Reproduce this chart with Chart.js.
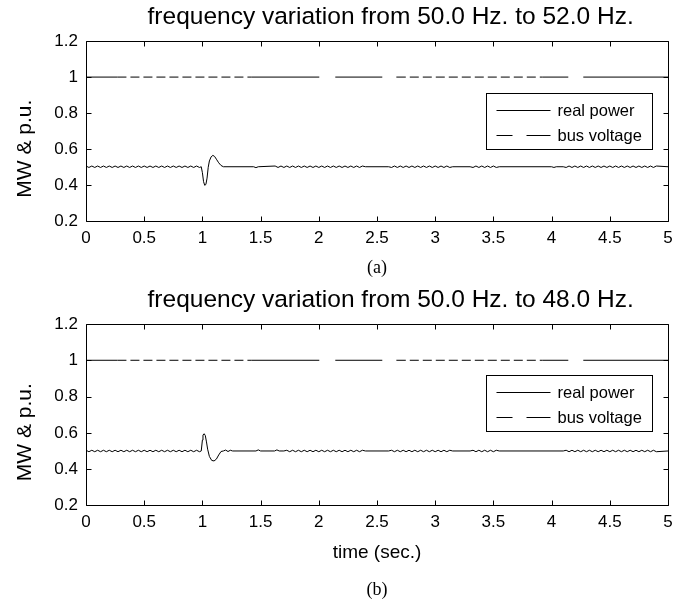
<!DOCTYPE html>
<html>
<head>
<meta charset="utf-8">
<script src="https://cdn.jsdelivr.net/npm/chart.js@4.4.1/dist/chart.umd.min.js"></script>
<style>
    html, body { margin: 0; padding: 0; background: #fff; }
    #wrap { position: relative; width: 691px; height: 601px; overflow: hidden; }
    #wrap canvas { position: absolute; left: 0; }
    #chart-a { top: 0; }
    #chart-b { top: 283px; }
</style>
</head>
<body>
<div id="wrap">
    <canvas id="chart-a" width="691" height="283"></canvas>
    <canvas id="chart-b" width="691" height="318"></canvas>
</div>
<script>
// ---- data ----
const xTicks = [0, 0.5, 1, 1.5, 2, 2.5, 3, 3.5, 4, 4.5, 5];
const xTickLabels = ['0', '0.5', '1', '1.5', '2', '2.5', '3', '3.5', '4', '4.5', '5'];
const yTicks = [0.2, 0.4, 0.6, 0.8, 1, 1.2];
const yTickLabels = ['0.2', '0.4', '0.6', '0.8', '1', '1.2'];

const seriesNames = ['real power', 'bus voltage'];
const titleA = 'frequency variation from 50.0 Hz. to 52.0 Hz.';
const titleB = 'frequency variation from 50.0 Hz. to 48.0 Hz.';
const yTitle = 'MW & p.u.';
const xTitle = 'time (sec.)';
const captionA = '(a)';
const captionB = '(b)';

// (a) real power, time in sec.
const timeA = [
    0, 0.025, 0.05, 0.075, 0.1, 0.125, 0.15, 0.175, 0.2, 0.225,
    0.25, 0.275, 0.3, 0.325, 0.35, 0.375, 0.4, 0.425, 0.45, 0.475,
    0.5, 0.525, 0.55, 0.575, 0.6, 0.625, 0.65, 0.675, 0.7, 0.725,
    0.75, 0.775, 0.8, 0.825, 0.85, 0.875, 0.9, 0.925, 0.95, 0.975,
    0.99, 1.0, 1.01, 1.02, 1.03, 1.04, 1.05, 1.06, 1.075, 1.09,
    1.105, 1.12, 1.14, 1.16, 1.18, 1.44, 1.46, 1.48, 1.625, 1.65,
    1.675, 1.7, 1.725, 1.75, 1.775, 1.8, 1.825, 1.85, 1.875, 1.9,
    1.925, 1.95, 1.975, 2.0, 2.025, 2.05, 2.075, 2.1, 2.125, 2.15,
    2.175, 2.2, 2.225, 2.25, 2.275, 2.3, 2.325, 2.35, 2.375, 2.4,
    2.6, 2.625, 2.65, 2.675, 2.7, 2.725, 2.75, 2.775, 2.8, 2.825,
    2.85, 2.875, 2.9, 2.925, 2.95, 2.975, 3.0, 3.025, 3.05, 3.075,
    3.1, 3.125, 3.15, 3.3, 3.325, 3.35, 3.375, 3.4, 3.425, 3.45,
    3.475, 3.5, 3.525, 3.55, 4.0, 4.02, 4.04, 4.1, 4.125, 4.15,
    4.175, 4.2, 4.225, 4.25, 4.275, 4.3, 4.325, 4.35, 4.375, 4.4,
    4.425, 4.45, 4.475, 4.5, 4.525, 4.55, 4.575, 4.6, 4.625, 4.65,
    4.675, 4.7, 4.725, 4.75, 4.775, 4.8, 4.825, 4.85, 4.875, 4.9,
    5.0
];
const powerA = [
    0.507, 0.499, 0.507, 0.499, 0.507, 0.499, 0.507, 0.499, 0.507, 0.499,
    0.507, 0.499, 0.507, 0.499, 0.507, 0.499, 0.507, 0.499, 0.507, 0.499,
    0.507, 0.499, 0.507, 0.499, 0.507, 0.499, 0.507, 0.499, 0.507, 0.499,
    0.507, 0.499, 0.507, 0.499, 0.507, 0.499, 0.507, 0.499, 0.507, 0.499,
    0.503, 0.47, 0.42, 0.40, 0.405, 0.44, 0.50, 0.535, 0.558, 0.566,
    0.56, 0.545, 0.525, 0.51, 0.503, 0.503, 0.498, 0.503, 0.507, 0.499,
    0.507, 0.499, 0.507, 0.499, 0.507, 0.499, 0.507, 0.499, 0.507, 0.499,
    0.507, 0.499, 0.507, 0.499, 0.507, 0.499, 0.507, 0.499, 0.507, 0.499,
    0.507, 0.499, 0.507, 0.499, 0.507, 0.499, 0.507, 0.499, 0.507, 0.503,
    0.503, 0.499, 0.507, 0.499, 0.507, 0.499, 0.507, 0.499, 0.507, 0.499,
    0.507, 0.499, 0.507, 0.499, 0.507, 0.499, 0.507, 0.499, 0.507, 0.499,
    0.507, 0.499, 0.503, 0.503, 0.499, 0.507, 0.499, 0.507, 0.499, 0.507,
    0.499, 0.507, 0.499, 0.503, 0.503, 0.499, 0.503, 0.503, 0.499, 0.507,
    0.499, 0.507, 0.499, 0.507, 0.499, 0.507, 0.499, 0.507, 0.499, 0.507,
    0.499, 0.507, 0.499, 0.507, 0.499, 0.507, 0.499, 0.507, 0.499, 0.507,
    0.499, 0.507, 0.499, 0.507, 0.499, 0.507, 0.499, 0.507, 0.499, 0.507,
    0.503
];

// (b) real power
const timeB = [
    0, 0.025, 0.05, 0.075, 0.1, 0.125, 0.15, 0.175, 0.2, 0.225,
    0.25, 0.275, 0.3, 0.325, 0.35, 0.375, 0.4, 0.425, 0.45, 0.475,
    0.5, 0.525, 0.55, 0.575, 0.6, 0.625, 0.65, 0.675, 0.7, 0.725,
    0.75, 0.775, 0.8, 0.825, 0.85, 0.875, 0.9, 0.925, 0.95, 0.975,
    0.99, 1.0, 1.005, 1.015, 1.025, 1.035, 1.045, 1.06, 1.08, 1.1,
    1.12, 1.14, 1.16, 1.18, 1.2, 1.22, 1.24, 1.26, 1.46, 1.48,
    1.5, 1.62, 1.64, 1.66, 1.7, 1.725, 1.75, 1.775, 1.8, 1.825,
    1.85, 1.875, 1.9, 1.925, 1.95, 1.975, 2.0, 2.025, 2.05, 2.075,
    2.1, 2.125, 2.15, 2.175, 2.2, 2.225, 2.25, 2.275, 2.3, 2.325,
    2.35, 2.375, 2.4, 2.6, 2.625, 2.65, 2.675, 2.7, 2.725, 2.75,
    2.775, 2.8, 2.825, 2.85, 2.875, 2.9, 2.925, 2.95, 2.975, 3.0,
    3.025, 3.05, 3.075, 3.1, 3.125, 3.15, 3.3, 3.325, 3.35, 3.375,
    3.4, 3.425, 3.45, 3.475, 3.5, 3.525, 3.55, 4.1, 4.125, 4.15,
    4.175, 4.2, 4.225, 4.25, 4.275, 4.3, 4.325, 4.35, 4.375, 4.4,
    4.425, 4.45, 4.475, 4.5, 4.525, 4.55, 4.575, 4.6, 4.625, 4.65,
    4.675, 4.7, 4.725, 4.75, 4.775, 4.8, 4.825, 4.85, 4.875, 4.9,
    5.0
];
const powerB = [
    0.504, 0.496, 0.504, 0.496, 0.504, 0.496, 0.504, 0.496, 0.504, 0.496,
    0.504, 0.496, 0.504, 0.496, 0.504, 0.496, 0.504, 0.496, 0.504, 0.496,
    0.504, 0.496, 0.504, 0.496, 0.504, 0.496, 0.504, 0.496, 0.504, 0.496,
    0.504, 0.496, 0.504, 0.496, 0.504, 0.496, 0.504, 0.496, 0.504, 0.496,
    0.50, 0.56, 0.588, 0.595, 0.585, 0.55, 0.51, 0.47, 0.448, 0.445,
    0.455, 0.478, 0.497, 0.50, 0.505, 0.497, 0.504, 0.50, 0.50, 0.506,
    0.50, 0.50, 0.506, 0.50, 0.50, 0.504, 0.496, 0.504, 0.496, 0.504,
    0.496, 0.504, 0.496, 0.504, 0.496, 0.504, 0.496, 0.504, 0.496, 0.504,
    0.496, 0.504, 0.496, 0.504, 0.496, 0.504, 0.496, 0.504, 0.496, 0.504,
    0.496, 0.504, 0.50, 0.50, 0.504, 0.496, 0.504, 0.496, 0.504, 0.496,
    0.504, 0.496, 0.504, 0.496, 0.504, 0.496, 0.504, 0.496, 0.504, 0.496,
    0.504, 0.496, 0.504, 0.496, 0.504, 0.50, 0.50, 0.504, 0.496, 0.504,
    0.496, 0.504, 0.496, 0.504, 0.496, 0.504, 0.50, 0.50, 0.504, 0.496,
    0.504, 0.496, 0.504, 0.496, 0.504, 0.496, 0.504, 0.496, 0.504, 0.496,
    0.504, 0.496, 0.504, 0.496, 0.504, 0.496, 0.504, 0.496, 0.504, 0.496,
    0.504, 0.496, 0.504, 0.496, 0.504, 0.496, 0.504, 0.496, 0.504, 0.496,
    0.50
];

// bus voltage: flat at 1 p.u., broken where the dash pattern changes
const voltageTime = [0, 0.27, 1.42, 2.67, 3.92, 5];
const voltageA = [1, 1, 1, 1, 1, 1];
const voltageB = [1, 1, 1, 1, 1, 1];

// ---- drawing ----
const SANS = '"Liberation Sans", Arial, Helvetica, sans-serif';
const SERIF = '"Liberation Serif", "Times New Roman", Times, serif';
const NB = '\u00a0';

Chart.defaults.color = '#000';
Chart.defaults.font.family = SANS;

// dash runs of the voltage trace, one per segment
const voltageDash = [[], [9, 4], [68, 16, 47, 14], [9, 4], [26, 15, 200, 0]];

const toPoints = (xs, ys) => {
    if (xs.length !== ys.length) console.warn('length mismatch', xs.length, ys.length);
    return xs.map((x, i) => ({ x: x, y: ys[i] }));
};

// matlab style box with inward ticks on all four sides
const frameTicks = {
    id: 'frameTicks',
    afterDatasetsDraw(chart) {
        const { ctx, chartArea: a, scales: { x, y } } = chart;
        const L = Math.round(a.left) + 0.5, R = Math.round(a.right) + 0.5;
        const T = Math.round(a.top) + 0.5, B = Math.round(a.bottom) + 0.5;
        const len = 5;
        ctx.save();
        ctx.strokeStyle = '#000';
        ctx.lineWidth = 1;
        ctx.setLineDash([]);
        ctx.beginPath();
        ctx.rect(L, T, R - L, B - T);
        x.ticks.forEach(t => {
            const px = Math.round(x.getPixelForValue(t.value)) + 0.5;
            ctx.moveTo(px, B); ctx.lineTo(px, B - len);
            ctx.moveTo(px, T); ctx.lineTo(px, T + len);
        });
        y.ticks.forEach(t => {
            const py = Math.round(y.getPixelForValue(t.value)) + 0.5;
            ctx.moveTo(L, py); ctx.lineTo(L + len, py);
            ctx.moveTo(R, py); ctx.lineTo(R - len, py);
        });
        ctx.stroke();
        ctx.restore();
    }
};

// boxed legend inside the plot, upper right
const boxLegend = {
    id: 'boxLegend',
    afterDraw(chart, args, opts) {
        const { ctx, chartArea: a } = chart;
        const w = 166, h = 56;
        const left = Math.round(a.right - opts.right - w) + 0.5;
        const top = Math.round(a.top + opts.top) + 0.5;
        ctx.save();
        ctx.fillStyle = '#fff';
        ctx.fillRect(left, top, w, h);
        ctx.strokeStyle = '#000';
        ctx.lineWidth = 1;
        ctx.setLineDash([]);
        ctx.strokeRect(left, top, w, h);
        ctx.font = '16.5px ' + SANS;
        ctx.fillStyle = '#000';
        ctx.textBaseline = 'middle';
        chart.data.datasets.forEach((ds, i) => {
            const cy = Math.round(top + 16 + i * 25) + 0.5;
            ctx.setLineDash(ds.legendDash || []);
            ctx.beginPath();
            ctx.moveTo(left + 10, cy);
            ctx.lineTo(left + 64, cy);
            ctx.stroke();
            ctx.fillText(ds.label, left + 71, cy + 1);
        });
        ctx.restore();
    }
};

function makeChart(canvasId, cfg) {
    return new Chart(document.getElementById(canvasId), {
        type: 'line',
        data: {
            datasets: [
                {
                    label: seriesNames[0],
                    data: toPoints(cfg.time, cfg.power),
                    borderColor: '#000',
                    borderWidth: 1,
                    pointRadius: 0,
                    tension: 0,
                    legendDash: []
                },
                {
                    label: seriesNames[1],
                    data: toPoints(voltageTime, cfg.voltage),
                    borderColor: '#000',
                    borderWidth: 1,
                    pointRadius: 0,
                    tension: 0,
                    segment: { borderDash: c => voltageDash[c.p0DataIndex] },
                    legendDash: [16, 14, 24, 0]
                }
            ]
        },
        options: {
            responsive: false,
            animation: false,
            events: [],
            layout: { padding: { left: 0, right: 23, top: 0, bottom: 0 } },
            plugins: {
                legend: { display: false },
                tooltip: { enabled: false },
                title: {
                    display: true,
                    fullSize: false,
                    text: NB.repeat(4) + cfg.title,
                    color: '#000',
                    font: { family: SANS, size: 24.5, weight: 'normal' },
                    padding: { top: 3, bottom: 8.6 }
                },
                subtitle: {
                    display: true,
                    fullSize: false,
                    position: 'bottom',
                    text: cfg.caption,
                    color: '#000',
                    font: { family: SERIF, size: 18, weight: 'normal' },
                    padding: cfg.captionPadding
                },
                boxLegend: { top: cfg.legendTop, right: 16 }
            },
            scales: {
                x: {
                    type: 'linear',
                    min: 0,
                    max: 5,
                    afterBuildTicks: s => { s.ticks = xTicks.map(v => ({ value: v })); },
                    afterFit: s => { s.height = cfg.xAxisHeight; },
                    grid: { display: false, drawTicks: false },
                    border: { display: false },
                    ticks: {
                        padding: 7,
                        autoSkip: false,
                        maxRotation: 0,
                        color: '#000',
                        font: { family: SANS, size: 17 },
                        callback: v => xTickLabels[xTicks.indexOf(v)]
                    },
                    title: {
                        display: !!cfg.xTitle,
                        text: cfg.xTitle || '',
                        color: '#000',
                        font: { family: SANS, size: 19 },
                        padding: { top: 0, bottom: 2 }
                    }
                },
                y: {
                    type: 'linear',
                    min: 0.2,
                    max: 1.2,
                    afterBuildTicks: s => { s.ticks = yTicks.map(v => ({ value: v })); },
                    afterFit: s => { s.width = 86; },
                    grid: { display: false, drawTicks: false },
                    border: { display: false },
                    ticks: {
                        padding: 8,
                        color: '#000',
                        font: { family: SANS, size: 17 },
                        callback: v => yTickLabels[yTicks.indexOf(v)]
                    },
                    title: {
                        display: true,
                        text: yTitle + NB.repeat(6),
                        color: '#000',
                        font: { family: SANS, size: 21 },
                        padding: { top: 13, bottom: 0 }
                    }
                }
            }
        },
        plugins: [frameTicks, boxLegend]
    });
}

makeChart('chart-a', {
    title: titleA, caption: captionA,
    time: timeA, power: powerA, voltage: voltageA,
    legendTop: 52, xAxisHeight: 30,
    captionPadding: { top: 6, bottom: 4 }
});

makeChart('chart-b', {
    title: titleB, caption: captionB, xTitle: xTitle,
    time: timeB, power: powerB, voltage: voltageB,
    legendTop: 51, xAxisHeight: 61,
    captionPadding: { top: 13, bottom: 0 }
});
</script>
</body>
</html>
